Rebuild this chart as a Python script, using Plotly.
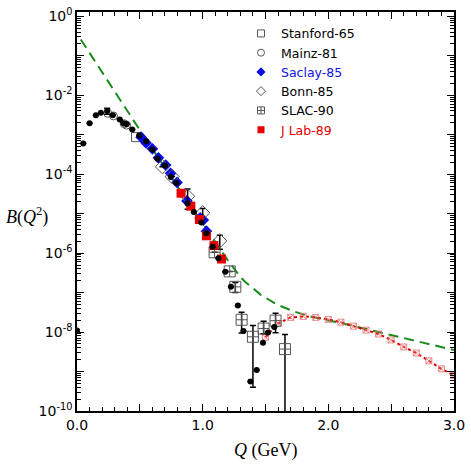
import plotly.graph_objects as go

# black dots (no legend entry)
dots_q = [0.0, 0.05, 0.10, 0.15, 0.19, 0.24, 0.285, 0.34, 0.37, 0.395, 0.44, 0.495, 0.55, 0.60, 0.64,
          0.70, 0.747, 0.79, 0.88, 0.93, 0.99, 1.03, 1.08, 1.125, 1.18, 1.225, 1.28, 1.325, 1.38, 1.43,
          1.48, 1.52, 1.57]
dots_b = [1.1e-8, 6.0e-4, 1.95e-3, 3.1e-3, 3.6e-3, 4.0e-3, 3.1e-3, 2.45e-3, 1.95e-3, 1.85e-3, 1.35e-3,
          9.5e-4, 6.8e-4, 4.2e-4, 2.45e-4, 1.65e-4, 8.5e-5, 6.0e-5, 1.8e-5, 1.1e-5, 6.0e-6, 3.2e-6,
          1.45e-6, 7.4e-7, 3.4e-7, 1.4e-7, 4.7e-8, 1.07e-8, 5.6e-10, 1.1e-9, 5.4e-9, 9.8e-9, 1.35e-8]
dots_err = [0] * 5 + [7e-4] + [0] * 27

stanford_q = [0.47]
stanford_b = [8.7e-4]

mainz_q = [0.245, 0.29, 0.375, 0.395]
mainz_b = [3.5e-3, 3.0e-3, 1.9e-3, 1.75e-3]

saclay_q = [0.51, 0.55, 0.60, 0.648, 0.706, 0.745, 0.796, 0.875, 0.98, 1.005, 1.03]
saclay_b = [8.7e-4, 6.2e-4, 4.4e-4, 2.6e-4, 1.7e-4, 1.05e-4, 6.2e-5, 2.1e-5, 7.8e-6, 6.9e-6, 3.6e-6]

bonn_q = [0.68, 0.757, 0.88, 1.0, 1.136]
bonn_b = [1.55e-4, 8.7e-5, 2.75e-5, 1.05e-5, 2.05e-6]
bonn_err = [0, 0, 1.45e-5, 3e-6, 0.8e-6]

slac_q = [1.095, 1.215, 1.26, 1.31, 1.40, 1.485, 1.58, 1.655]
slac_b = [1.05e-6, 3.45e-7, 1.4e-7, 2.05e-8, 7.6e-9, 1.23e-8, 1.95e-8, 3.7e-9]
slac_up = [0, 0, 4e-8, 1.15e-8, 7.1e-9, 6.4e-9, 1.05e-8, 5.0e-9]
slac_dn = [0, 0, 4e-8, 1.1e-8, 7.2e-9, 3.2e-9, 0.99e-8, 3.69e-9]

jlab_q = [0.828, 0.906, 0.974, 1.03, 1.09, 1.15]
jlab_b = [3.3e-5, 1.55e-5, 7.1e-6, 2.75e-6, 1.55e-6, 7.1e-7]

# dashed green curve
green_q = [0.03, 0.52, 0.85, 1.20, 1.30, 1.34, 1.46, 1.59, 1.73, 1.85, 2.14, 2.40, 2.67, 3.0]
green_b = [0.26, 1.05e-3, 2.8e-5, 6.6e-7, 2.5e-7, 1.86e-7, 8.9e-8, 5.0e-8, 3.3e-8, 2.5e-8, 1.58e-8,
           1.0e-8, 6.3e-9, 3.5e-9]

# red dotted curve with markers
red_q = [1.5, 1.6, 1.7, 1.8, 1.9, 2.0, 2.1, 2.2, 2.3, 2.4, 2.5, 2.6, 2.7, 2.8, 2.9, 3.0]
red_b = [7.4e-9, 1.66e-8, 2.35e-8, 2.5e-8, 2.35e-8, 2.1e-8, 1.78e-8, 1.41e-8, 1.12e-8, 8.9e-9,
         6.3e-9, 4.2e-9, 2.95e-9, 1.86e-9, 1.17e-9, 7.9e-10]

y_decades = list(range(0, -11, -1))
x_major = [0, 0.5, 1.0, 1.5, 2.0, 2.5, 3.0]

# marker styles, shared by data traces and legend entries
styles = {
    "Stanford-65": dict(symbol="square-open", color="#555", line=dict(width=1)),
    "Mainz-81": dict(symbol="circle-open", color="#555", line=dict(width=1)),
    "<span style='color:#1010e0'>Saclay-85</span>": dict(symbol="diamond", color="#0a0ae6"),
    "Bonn-85": dict(symbol="diamond-open", color="#555", line=dict(width=1)),
    "SLAC-90": dict(symbol="square-cross-open", color="#555", line=dict(width=1)),
    "<span style='color:#e00000'>J Lab-89</span>": dict(symbol="square", color="#e60000"),
}
names = list(styles)

fig = go.Figure()

fig.add_trace(go.Scatter(x=green_q, y=green_b, mode="lines", showlegend=False,
                         line=dict(color="#1a8c1a", width=2, dash="10px,6px")))
fig.add_trace(go.Scatter(x=red_q, y=red_b, mode="lines+markers", showlegend=False,
                         line=dict(color="#dd0000", width=2, dash="3px,3px"),
                         marker=dict(symbol="square-x-open", size=6, color="rgba(235,110,110,0.8)",
                                     line=dict(width=1))))

errbar = dict(color="black", thickness=1.5, width=3)

sets = [
    (stanford_q, stanford_b, 9, None),
    (mainz_q, mainz_b, 8, None),
    (saclay_q, saclay_b, 9, None),
    (bonn_q, bonn_b, 11, dict(type="data", array=bonn_err, **errbar)),
    (slac_q, slac_b, 11, dict(type="data", array=slac_up, arrayminus=slac_dn, **errbar)),
    (jlab_q, jlab_b, 9, None),
]
for name, (q, b, size, err) in zip(names, sets):
    fig.add_trace(go.Scatter(x=q, y=b, mode="markers", showlegend=False, error_y=err,
                             marker=dict(size=size, **styles[name])))

fig.add_trace(go.Scatter(x=dots_q, y=dots_b, mode="markers", showlegend=False,
                         error_y=dict(type="data", array=dots_err, **errbar),
                         marker=dict(symbol="circle", size=6, color="black")))

# legend entries with small symbols
for name in names:
    fig.add_trace(go.Scatter(x=[None], y=[None], mode="markers", name=name,
                             marker=dict(size=7, **styles[name])))

fig.update_layout(
    width=471, height=464,
    margin=dict(l=77, r=12, t=6, b=53),
    plot_bgcolor="white", paper_bgcolor="white",
    font=dict(family="DejaVu Sans", size=14, color="black"),
    legend=dict(x=0.435, y=0.983, xanchor="left", yanchor="top",
                font=dict(size=12.5), bgcolor="rgba(0,0,0,0)"),
)

fig.update_xaxes(
    range=[0, 3.0], showgrid=False, zeroline=False,
    showline=True, linecolor="black", linewidth=1.5, mirror="allticks",
    tickmode="array", tickvals=x_major,
    ticktext=[f"{v:.1f}" if v == int(v) else "" for v in x_major],
    ticks="inside", ticklen=7, tickwidth=1.2, tickcolor="black",
    minor=dict(ticks="inside", ticklen=4, dtick=0.1, tickcolor="black", tickwidth=1),
)
fig.update_yaxes(
    type="log", range=[-10, 0.11], showgrid=False, zeroline=False,
    showline=True, linecolor="black", linewidth=1.5, mirror="allticks",
    tickmode="array", tickvals=[10.0 ** d for d in y_decades],
    ticktext=[f"10<sup>{d}</sup>" if d % 2 == 0 else "" for d in y_decades],
    ticks="inside", ticklen=7, tickwidth=1.2, tickcolor="black", ticklabeloverflow="allow",
    minor=dict(ticks="inside", ticklen=4, dtick="D1", tickcolor="black", tickwidth=1),
)

serif = dict(family="Liberation Serif", size=18, color="black")
fig.add_annotation(text="<i>B</i>(<i>Q</i><sup>2</sup>)", xref="paper", yref="paper",
                   x=-0.1335, y=0.489, xanchor="center", yanchor="middle",
                   showarrow=False, font=serif)
fig.add_annotation(text="<i>Q</i> (GeV)", xref="paper", yref="paper",
                   x=0.5, y=-0.099, xanchor="center", yanchor="middle",
                   showarrow=False, font=serif)

# the page is photographed from its top-left corner, so drop the body margin
fig.write_html("out.html", config={"displayModeBar": False},
               post_script="document.body.style.margin = '0px';")
